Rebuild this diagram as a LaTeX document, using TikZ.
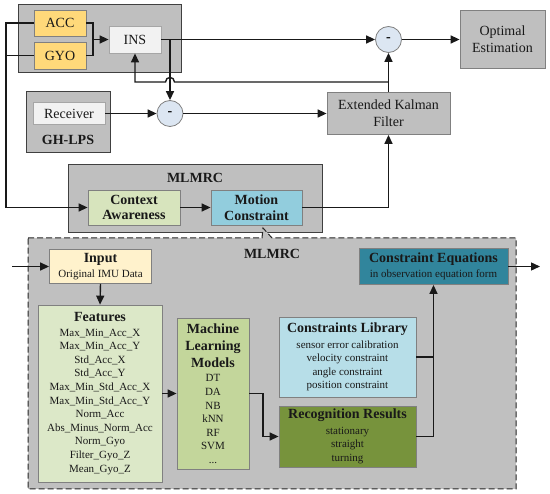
\documentclass[tikz,border=0pt]{standalone}
\usepackage{fontspec}
\setmainfont{Liberation Serif}
\usetikzlibrary{arrows.meta}
\definecolor{grpgray}{RGB}{191,191,191}
\definecolor{grpedge}{RGB}{64,64,64}
\definecolor{boxedge}{RGB}{128,128,128}
\definecolor{lightbox}{RGB}{242,242,242}
\definecolor{sensor}{RGB}{255,217,122}
\definecolor{circfill}{RGB}{220,230,242}
\definecolor{cagreen}{RGB}{215,228,189}
\definecolor{mcblue}{RGB}{146,205,221}
\definecolor{dashgray}{RGB}{192,192,192}
\definecolor{inyellow}{RGB}{255,242,204}
\definecolor{featgreen}{RGB}{220,232,200}
\definecolor{mlgreen}{RGB}{195,214,155}
\definecolor{clblue}{RGB}{183,222,232}
\definecolor{rrgreen}{RGB}{119,147,60}
\definecolor{ceteal}{RGB}{49,133,156}
\definecolor{txt}{RGB}{25,25,25}
\tikzset{
  base/.style={draw=boxedge, line width=0.8pt, text=txt, align=center, inner sep=0pt},
  grp/.style={draw=grpedge, fill=grpgray, line width=1pt},
  conn/.style={line width=1.4pt, draw=black!90},
  arr/.style={conn, -{Triangle[length=9pt,width=8pt]}},
  fbig/.style={font=\fontsize{14}{16.7}\selectfont},
  fsmall/.style={font=\fontsize{11}{13.6}\selectfont},
  minus/.style={circle, draw=boxedge, fill=circfill, line width=0.8pt, minimum size=26pt, inner sep=0pt, font=\fontsize{14}{16}\selectfont\bfseries}
}
\begin{document}
\begin{tikzpicture}[x=1pt,y=-1pt]
\path[use as bounding box, fill=white] (0,0) rectangle (550,494);

% top IMU group
\node[grp, minimum width=163pt, minimum height=68pt] (imu) at (99.5,39) {};
\node[base, fbig, fill=sensor, minimum width=52pt, minimum height=26pt] (acc) at (60,23) {ACC};
\node[base, fbig, fill=sensor, minimum width=52pt, minimum height=27pt] (gyo) at (60,55.5) {GYO};
\node[base, fbig, fill=lightbox, draw=black!35, minimum width=52pt, minimum height=27pt] (ins) at (135,39.5) {INS};

% GH-LPS group
\node[grp, minimum width=84pt, minimum height=61pt] (gh) at (68,122.5) {};
\node[base, fbig, fill=lightbox, draw=black!35, minimum width=72pt, minimum height=22pt] (rcv) at (69,113.5) {Receiver};
\node[text=txt, font=\fontsize{14}{16}\selectfont\bfseries] (ghl) at (68,140) {GH-LPS};

% circles and right boxes
\node[minus] (c1) at (170,113.5) {-};
\node[minus] (c2) at (388.5,39.5) {-};
\node[base, fbig, fill=grpgray, minimum width=85pt, minimum height=58pt] (opt) at (502.5,39.5) {Optimal\\Estimation};
\node[base, fbig, fill=grpgray, minimum width=123pt, minimum height=42pt] (ekf) at (388.5,113.5) {Extended Kalman\\Filter};

% MLMRC upper group
\node[grp, minimum width=254pt, minimum height=68pt] (mlA) at (195,199) {};
\node[text=txt, font=\fontsize{14}{16}\selectfont\bfseries] (mlAl) at (195,178) {MLMRC};
\node[base, fill=cagreen, minimum width=92pt, minimum height=35pt, font=\fontsize{14}{15.7}\selectfont\bfseries] (ca) at (134,207.5) {Context\\Awareness};
\node[base, fill=mcblue, minimum width=91pt, minimum height=35pt, font=\fontsize{14}{15.7}\selectfont\bfseries] (mc) at (256.5,207.5) {Motion\\Constraint};

% dashed MLMRC detail box with pointer
\draw[draw=black!85, fill=dashgray, line width=1pt, dash pattern=on 6pt off 3pt]
  (28,238) -- (262,238) -- (263,228) -- (272,238) -- (516,238) -- (516,489) -- (28,489) -- cycle;
\node[text=txt, font=\fontsize{14}{16}\selectfont\bfseries] (mlBl) at (272,254) {MLMRC};

\node[base, fill=inyellow, minimum width=102pt, minimum height=34pt, fsmall] (inp) at (100.5,266.5)
  {{\fontsize{14}{16}\selectfont\bfseries Input}\\[1pt]Original IMU Data};
\node[base, fill=featgreen, minimum width=124pt, minimum height=177pt, fsmall] (feat) at (100,393.5)
  {{\fontsize{14}{15}\selectfont\bfseries Features}\\[1pt]Max\_Min\_Acc\_X\\Max\_Min\_Acc\_Y\\Std\_Acc\_X\\Std\_Acc\_Y\\Max\_Min\_Std\_Acc\_X\\Max\_Min\_Std\_Acc\_Y\\Norm\_Acc\\Abs\_Minus\_Norm\_Acc\\Norm\_Gyo\\Filter\_Gyo\_Z\\Mean\_Gyo\_Z};
\node[base, fill=mlgreen, minimum width=72pt, minimum height=151pt, fsmall] (ml) at (213,393.5)
  {{\fontsize{14}{16.7}\selectfont\bfseries Machine}\\[3.5pt]{\fontsize{14}{16.7}\selectfont\bfseries Learning}\\[3.5pt]{\fontsize{14}{16.7}\selectfont\bfseries Models}\\[1pt]DT\\DA\\NB\\kNN\\RF\\SVM\\...};
\node[base, fill=clblue, minimum width=137pt, minimum height=80pt, fsmall] (cl) at (347.5,357)
  {{\fontsize{14}{16}\selectfont\bfseries Constraints Library}\\[2pt]sensor error calibration\\velocity constraint\\angle constraint\\position constraint};
\node[base, fill=rrgreen, minimum width=137pt, minimum height=61pt, fsmall] (rr) at (347.5,436.5)
  {{\fontsize{14}{16}\selectfont\bfseries Recognition Results}\\[2pt]stationary\\straight\\turning};
\node[base, fill=ceteal, minimum width=149pt, minimum height=36pt, fsmall] (ce) at (433.5,266.5)
  {{\fontsize{14}{16}\selectfont\bfseries Constraint Equations}\\[1pt]in observation equation form};

% connectors top
\coordinate (j1) at (93,39.5);
\draw[conn] (acc.east) -| (j1) |- (gyo.east);
\draw[arr] (j1) -- (ins.west);
\draw[arr] (ins.east) -- (c2.west);
\coordinate (b1) at (170,39.5);
\draw[arr] (b1) -- (c1.north);
\draw[arr] (c2.east) -- (opt.west);
\draw[arr] (rcv.east) -- (c1.west);
\draw[arr] (c1.east) -- (ekf.west);
\draw[arr] (ekf.north) -- (c2.south);
\coordinate (fb) at (388.5,82);
\coordinate (h1) at (174.5,82);
\coordinate (h2) at (165.5,82);
\draw[arr] (fb) -- (h1) .. controls (174.5,76) and (165.5,76) .. (h2) -| (ins.south);
\coordinate (lft) at (6,23);
\draw[arr] (acc.west) -- (lft) |- (ca.west);
\coordinate (lft2) at (6,55.5);
\draw[conn] (gyo.west) -- (lft2);
\draw[arr] (ca.east) -- (mc.west);
\draw[arr] (mc.east) -| (ekf.south);

% connectors bottom
\coordinate (inl) at (12,266.5);
\draw[arr] (inl) -- (inp.west);
\draw[arr] (inp.south) -- (feat.north);
\draw[arr] (feat.east) -- (ml.west);
\coordinate (mlj) at (263,393.5);
\draw[arr] (ml.east) -- (mlj) |- (rr.west);
\coordinate (clj) at (433.5,357);
\draw[conn] (cl.east) -- (clj);
\draw[arr] (rr.east) -| (ce.south);
\coordinate (ceo) at (540,266.5);
\draw[arr] (ce.east) -- (ceo);
\end{tikzpicture}
\end{document}
